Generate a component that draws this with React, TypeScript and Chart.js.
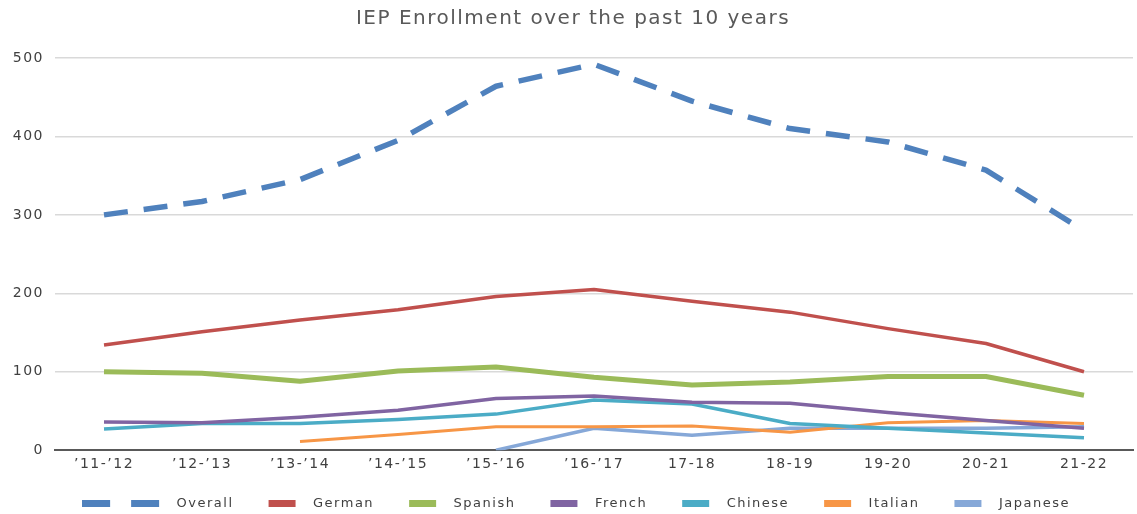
import React, { useEffect, useRef } from 'react';
import { Chart, registerables } from 'chart.js';

Chart.register(...registerables);

const categories = ['\u201911-\u201912', '\u201912-\u201913', '\u201913-\u201914', '\u201914-\u201915', '\u201915-\u201916', '\u201916-\u201917', '17-18', '18-19', '19-20', '20-21', '21-22'];

const overall = [300, 317, 345, 395, 464, 492, 445, 410, 393, 357, 280];
const german = [134, 151, 166, 179, 196, 205, 190, 176, 155, 136, 100];
const spanish = [100, 98, 88, 101, 106, 93, 83, 87, 94, 94, 70];
const french = [36, 35, 42, 51, 66, 69, 61, 60, 48, 38, 28];
const chinese = [27, 34, 34, 39, 46, 64, 59, 34, 28, 22, 16];
const italian = [null, null, 11, 20, 30, 30, 31, 23, 35, 38, 34];
const japanese = [null, null, null, null, 0, 28, 19, 28, 28, 28, 30];

const yTicks = [0, 100, 200, 300, 400, 500];

const seriesNames = ['Overall', 'German', 'Spanish', 'French', 'Chinese', 'Italian', 'Japanese'];
const seriesColors = ['#4F81BD', '#C0504D', '#9BBB59', '#8064A2', '#4BACC6', '#F79646', '#86A8D8'];
const seriesWidths = [5.5, 3.5, 5, 3.5, 3.5, 3, 3.5];
const seriesData = [overall, german, spanish, french, chinese, italian, japanese];

function makeMarker(color: string, dashed: boolean): HTMLCanvasElement {
  const c = document.createElement('canvas');
  c.width = dashed ? 128 : 48;
  c.height = 7;
  const g = c.getContext('2d')!;
  g.fillStyle = color;
  if (dashed) {
    g.fillRect(0, 0, 28, 7);
    g.fillRect(49, 0, 28, 7);
  } else {
    g.fillRect(10, 0, 27, 7);
  }
  return c;
}

const spacingPlugin = {
  id: 'letterSpacingPlugin',
  beforeUpdate(chart: any) {
    chart.ctx.letterSpacing = '1.5px';
  },
  beforeDraw(chart: any) {
    chart.ctx.letterSpacing = '1.5px';
  },
};

const legendShiftPlugin = {
  id: 'legendShift',
  afterLayout(chart: any) {
    if (chart.legend) chart.legend.left += 46;
  },
};

export default function App() {
  const ref = useRef<HTMLCanvasElement>(null);

  useEffect(() => {
    Chart.defaults.font.family = "'DejaVu Sans', sans-serif";
    const markers = seriesColors.map((c, i) => makeMarker(c, i === 0));
    const chart = new Chart(ref.current!, {
      type: 'line',
      data: {
        labels: categories,
        datasets: seriesData.map((d, i) => ({
          label: seriesNames[i],
          data: d,
          borderColor: seriesColors[i],
          backgroundColor: seriesColors[i],
          borderWidth: seriesWidths[i],
          borderDash: i === 0 ? [24, 16] : [],
          borderCapStyle: 'butt',
          borderJoinStyle: 'round',
          pointRadius: 0,
          pointHoverRadius: 0,
          tension: 0,
          fill: false,
          spanGaps: false,
        })),
      },
      options: {
        responsive: true,
        maintainAspectRatio: false,
        animation: false,
        layout: { padding: { left: 13, right: 4, top: 0, bottom: 0 } },
        plugins: {
          title: {
            display: true,
            text: 'IEP Enrollment over the past 10 years',
            color: '#595959',
            font: { family: "'DejaVu Sans', sans-serif", size: 20, weight: 'normal' },
            padding: { top: 7, bottom: 27 },
          },
          legend: {
            display: true,
            position: 'bottom',
            labels: {
              usePointStyle: true,
              pointStyleWidth: 48,
              padding: 25,
              color: '#404040',
              font: { family: "'DejaVu Sans', sans-serif", size: 13 },
              generateLabels: (ch: any) =>
                ch.data.datasets.map((ds: any, i: number) => ({
                  text: ds.label,
                  fillStyle: ds.borderColor,
                  strokeStyle: ds.borderColor,
                  lineWidth: 0,
                  hidden: !ch.isDatasetVisible(i),
                  datasetIndex: i,
                  pointStyle: markers[i],
                  fontColor: '#404040',
                })),
            },
          },
          tooltip: { enabled: false },
        },
        scales: {
          x: {
            offset: true,
            grid: { display: false, drawTicks: false },
            border: { display: true, color: '#595959', width: 2 },
            ticks: {
              color: '#404040',
              font: { family: "'DejaVu Sans', sans-serif", size: 14 },
              padding: 6,
              maxRotation: 0,
              autoSkip: false,
            },
            afterFit: (scale: any) => {
              scale.height -= 7;
            },
          },
          y: {
            min: 0,
            max: 500,
            afterBuildTicks: (scale: any) => {
              scale.ticks = yTicks.map((v) => ({ value: v }));
            },
            afterFit: (scale: any) => {
              scale.width = 42;
            },
            grid: { color: '#D9D9D9', lineWidth: 1.5, drawTicks: false },
            border: { display: false },
            ticks: {
              color: '#404040',
              font: { family: "'DejaVu Sans', sans-serif", size: 14 },
              padding: 11,
            },
          },
        },
      },
      plugins: [spacingPlugin, legendShiftPlugin],
    } as any);
    return () => chart.destroy();
  }, []);

  return (
    <div style={{ position: 'fixed', left: 0, top: 0, width: 1137, height: 514, overflow: 'hidden', background: '#ffffff' }}>
      <div style={{ position: 'relative', width: 1137, height: 520 }}>
        <canvas ref={ref} />
      </div>
    </div>
  );
}
